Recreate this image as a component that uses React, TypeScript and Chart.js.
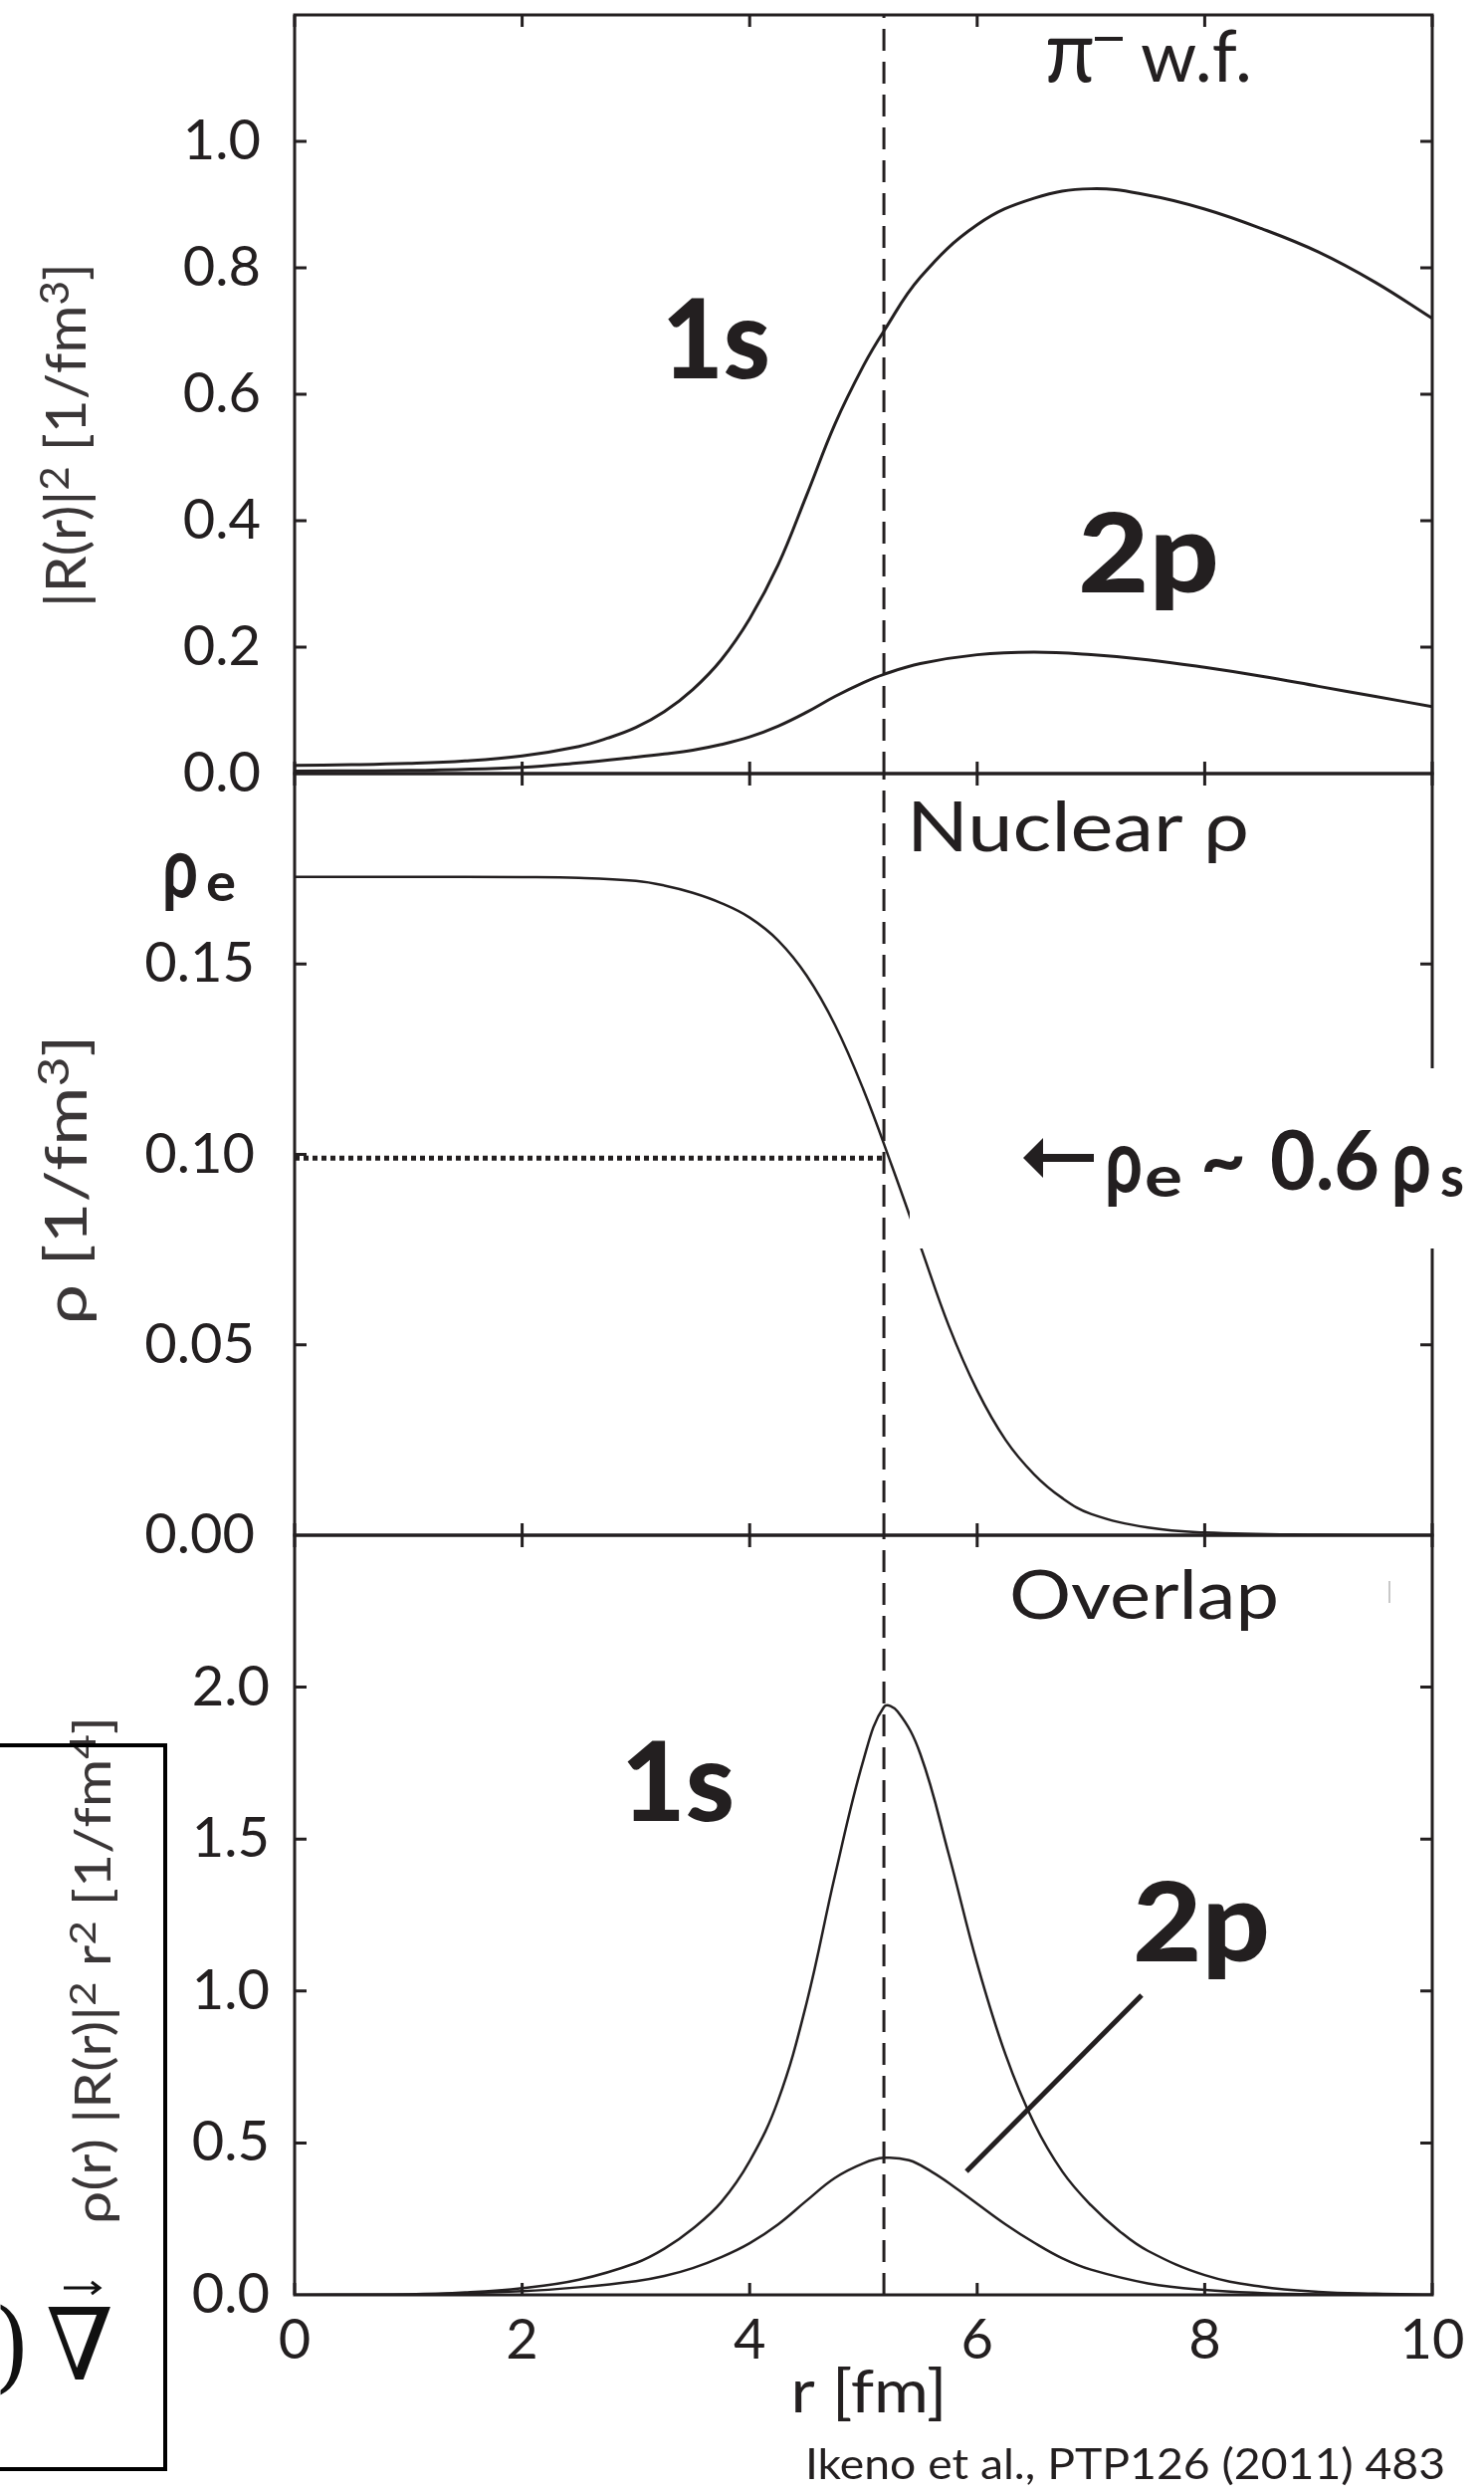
import React, { useEffect, useRef } from "react";
import { Chart, registerables } from "chart.js";

Chart.register(...registerables);

// ---------- page geometry ----------
const PAGE_W = 1491;
const PAGE_H = 2503;
const PLOT_LEFT = 296;
const PLOT_RIGHT = 1439;
const PANEL_TOPS = [15, 777, 1542];
const PANEL_BOTTOMS = [777, 1542, 2305];
const X_AXIS_H = 100;
const TICK_LEN = 12;
const INK = "#231f20";
const TITLE_INK = "#3a3637";
const FONT = "Lato, 'Open Sans', 'DejaVu Sans', sans-serif";
const SERIF = "'DejaVu Serif', 'Liberation Serif', serif";

// ---------- data ----------
const xTicks = [0, 2, 4, 6, 8, 10];
const wfTicks = [0, 0.2, 0.4, 0.6, 0.8, 1.0];
const rhoTicks = [0, 0.05, 0.1, 0.15];
const overlapTicks = [0, 0.5, 1.0, 1.5, 2.0];

// pi- wave function |R(r)|^2, 1s
const wf1sR = [0, 0.5, 1, 1.5, 2, 2.5, 2.75, 3, 3.25, 3.5, 3.75, 4, 4.25, 4.5, 4.75, 5, 5.18, 5.5, 6, 6.5, 7, 7.5, 8, 8.5, 9, 9.5, 10];
const wf1sV = [0.013, 0.014, 0.016, 0.02, 0.028, 0.043, 0.056, 0.073, 0.098, 0.133, 0.18, 0.245, 0.33, 0.44, 0.553, 0.645, 0.7, 0.785, 0.868, 0.91, 0.925, 0.915, 0.893, 0.862, 0.825, 0.777, 0.72];
// 2p
const wf2pR = [0, 1, 2, 2.5, 3, 3.25, 3.5, 3.75, 4, 4.25, 4.5, 4.75, 5, 5.18, 5.5, 6, 6.5, 7, 7.5, 8, 8.5, 9, 9.5, 10];
const wf2pV = [0.004, 0.005, 0.01, 0.017, 0.026, 0.031, 0.037, 0.046, 0.058, 0.075, 0.097, 0.122, 0.144, 0.157, 0.174, 0.188, 0.192, 0.188, 0.18, 0.168, 0.154, 0.138, 0.122, 0.106];

// nuclear density rho(r)
const rhoR = [0, 1, 2, 2.5, 3, 3.25, 3.5, 3.75, 4, 4.25, 4.5, 4.75, 5, 5.25, 5.5, 5.75, 6, 6.25, 6.5, 6.75, 7, 7.5, 8, 9, 10];
const rhoV = [0.1729, 0.1729, 0.1728, 0.1726, 0.1718, 0.1706, 0.1687, 0.166, 0.1622, 0.1562, 0.147, 0.134, 0.117, 0.097, 0.076, 0.055, 0.038, 0.025, 0.016, 0.0097, 0.0056, 0.002, 0.0007, 0.0001, 0];

// overlap rho |R|^2 r^2, 1s
const ov1sR = [0, 1, 1.5, 2, 2.5, 3, 3.25, 3.5, 3.75, 4, 4.25, 4.5, 4.75, 5, 5.18, 5.3, 5.5, 5.75, 6, 6.25, 6.5, 6.75, 7, 7.25, 7.5, 8, 8.5, 9, 9.5, 10];
const ov1sV = [0, 0.002, 0.008, 0.022, 0.05, 0.105, 0.152, 0.218, 0.305, 0.44, 0.64, 0.96, 1.38, 1.76, 1.935, 1.92, 1.78, 1.45, 1.09, 0.79, 0.565, 0.405, 0.295, 0.21, 0.145, 0.065, 0.027, 0.01, 0.004, 0.001];
// 2p
const ov2pR = [0, 1, 2, 2.5, 3, 3.25, 3.5, 3.75, 4, 4.25, 4.5, 4.75, 5, 5.18, 5.4, 5.6, 5.8, 6, 6.25, 6.5, 6.75, 7, 7.5, 8, 8.5, 9, 10];
const ov2pV = [0, 0.0005, 0.012, 0.025, 0.045, 0.062, 0.088, 0.124, 0.17, 0.232, 0.31, 0.385, 0.433, 0.451, 0.443, 0.405, 0.355, 0.3, 0.232, 0.172, 0.12, 0.083, 0.038, 0.016, 0.006, 0.002, 0];

const EDGE_R = 5.18; // dashed vertical line
const RHO_E = 0.099; // dotted horizontal line

// ---------- helpers ----------
type TxtOpts = {
  weight?: string | number;
  width?: number;
  align?: "left" | "center" | "right";
  baseline?: CanvasTextBaseline;
  color?: string;
  rotate?: number;
  family?: string;
};

function txt(ctx: CanvasRenderingContext2D, s: string, x: number, y: number, size: number, o: TxtOpts = {}) {
  ctx.save();
  ctx.font = `${o.weight ?? "normal"} ${size}px ${o.family ?? FONT}`;
  ctx.fillStyle = o.color ?? INK;
  ctx.textBaseline = o.baseline ?? "alphabetic";
  ctx.textAlign = "left";
  const w = ctx.measureText(s).width;
  const sx = o.width ? o.width / w : 1;
  ctx.translate(x, y);
  if (o.rotate) ctx.rotate(o.rotate);
  ctx.scale(sx, 1);
  const ox = o.align === "center" ? -w / 2 : o.align === "right" ? -w : 0;
  ctx.fillText(s, ox, 0);
  ctx.restore();
}

type Seg = { t: string; sup?: boolean };

// vertical (rotated) axis title with superscripts, centred at (cx, cy), stretched to `length`
function verticalTitle(ctx: CanvasRenderingContext2D, segs: Seg[], cx: number, cy: number, size: number, length: number) {
  ctx.save();
  ctx.fillStyle = TITLE_INK;
  ctx.textBaseline = "alphabetic";
  ctx.textAlign = "left";
  const supSize = size * 0.72;
  const widths = segs.map((s) => {
    ctx.font = `normal ${s.sup ? supSize : size}px ${FONT}`;
    return ctx.measureText(s.t).width;
  });
  const total = widths.reduce((a, b) => a + b, 0);
  ctx.translate(cx, cy);
  ctx.rotate(-Math.PI / 2);
  ctx.scale(length / total, 1);
  let x = -total / 2;
  const base = size * 0.36;
  segs.forEach((s, i) => {
    ctx.font = `normal ${s.sup ? supSize : size}px ${FONT}`;
    ctx.fillText(s.t, x, base - (s.sup ? size * 0.3 : 0));
    x += widths[i];
  });
  ctx.restore();
}

function series(r: number[], v: number[], width = 3) {
  return {
    data: r.map((x, i) => ({ x, y: v[i] })),
    borderColor: INK,
    borderWidth: width,
    pointRadius: 0,
    fill: false,
    tension: 0.4,
  };
}

function guide(points: { x: number; y: number }[], dash: number[], width: number) {
  return {
    data: points,
    borderColor: INK,
    borderWidth: width,
    borderDash: dash,
    borderCapStyle: "butt" as const,
    pointRadius: 0,
    fill: false,
    tension: 0,
  };
}

function drawFrame(chart: any, yTicks: number[]) {
  const { ctx, chartArea: a, scales } = chart;
  const xs = scales.x;
  const ys = scales.y;
  ctx.save();
  ctx.strokeStyle = INK;
  ctx.lineWidth = 3;
  ctx.strokeRect(a.left, a.top, a.right - a.left, a.bottom - a.top);
  ctx.beginPath();
  for (const v of xTicks) {
    const px = xs.getPixelForValue(v);
    ctx.moveTo(px, a.bottom);
    ctx.lineTo(px, a.bottom - TICK_LEN);
    ctx.moveTo(px, a.top);
    ctx.lineTo(px, a.top + TICK_LEN);
  }
  for (const v of yTicks) {
    const py = ys.getPixelForValue(v);
    ctx.moveTo(a.left, py);
    ctx.lineTo(a.left + TICK_LEN, py);
    ctx.moveTo(a.right, py);
    ctx.lineTo(a.right - TICK_LEN, py);
  }
  ctx.stroke();
  ctx.restore();
}

type PanelSpec = {
  index: number;
  yMin: number;
  yMax: number;
  yTicks: number[];
  decimals: number;
  labelPad: number;
  showX: boolean;
  datasets: any[];
  decorate: (chart: any) => void;
};

function makeConfig(p: PanelSpec): any {
  const top = PANEL_TOPS[p.index];
  const bottom = PANEL_BOTTOMS[p.index];
  const xh = p.showX ? X_AXIS_H : 0;
  return {
    type: "line",
    data: { datasets: p.datasets },
    options: {
      animation: false,
      responsive: false,
      maintainAspectRatio: false,
      devicePixelRatio: 1,
      events: [],
      layout: {
        padding: {
          left: 0,
          right: PAGE_W - PLOT_RIGHT,
          top,
          bottom: PAGE_H - bottom - xh,
        },
      },
      plugins: { legend: { display: false }, tooltip: { enabled: false }, title: { display: false } },
      scales: {
        x: {
          type: "linear",
          min: 0,
          max: 10,
          display: p.showX,
          grid: { display: false, drawTicks: false },
          border: { display: false },
          ticks: {
            autoSkip: false,
            maxRotation: 0,
            padding: 12,
            color: INK,
            font: { family: FONT, size: 56 },
            callback: (v: number) => String(v),
          },
          afterBuildTicks: (s: any) => {
            s.ticks = xTicks.map((value) => ({ value }));
          },
          afterFit: (s: any) => {
            s.height = xh;
            s.paddingLeft = 0;
            s.paddingRight = 0;
          },
        },
        y: {
          type: "linear",
          min: p.yMin,
          max: p.yMax,
          grid: { display: false, drawTicks: false },
          border: { display: false },
          ticks: {
            autoSkip: false,
            padding: p.labelPad,
            color: INK,
            font: { family: FONT, size: 56 },
            callback: (v: number) => Number(v).toFixed(p.decimals),
          },
          afterBuildTicks: (s: any) => {
            s.ticks = p.yTicks.map((value) => ({ value }));
          },
          afterFit: (s: any) => {
            s.width = PLOT_LEFT;
            s.paddingTop = 0;
            s.paddingBottom = 0;
          },
        },
      },
    },
    plugins: [
      {
        id: "panelDecor" + p.index,
        afterDraw(chart: any) {
          drawFrame(chart, p.yTicks.filter((v) => v > p.yMin));
          p.decorate(chart);
        },
      },
    ],
  };
}

// ---------- panel specs ----------
const topPanel: PanelSpec = {
  index: 0,
  yMin: 0,
  yMax: 1.2,
  yTicks: wfTicks,
  decimals: 1,
  labelPad: 34,
  showX: false,
  datasets: [
    series(wf1sR, wf1sV, 3),
    series(wf2pR, wf2pV, 3),
    guide([{ x: EDGE_R, y: 0 }, { x: EDGE_R, y: 1.2 }], [22, 11], 3),
  ],
  decorate(chart) {
    const ctx = chart.ctx as CanvasRenderingContext2D;
    txt(ctx, "π", 1050, 82, 88, { width: 50 });
    ctx.save();
    ctx.fillStyle = INK;
    ctx.fillRect(1100, 37, 28, 4);
    ctx.restore();
    txt(ctx, "w.f.", 1146, 82, 72, { width: 112 });
    txt(ctx, "1s", 665, 380, 110, { weight: 900, width: 109 });
    txt(ctx, "2p", 1083, 595, 110, { weight: 900, width: 142 });
    verticalTitle(
      ctx,
      [{ t: "|R(r)|" }, { t: "2", sup: true }, { t: " [1/fm" }, { t: "3", sup: true }, { t: "]" }],
      66,
      437,
      56,
      346
    );
  },
};

const middlePanel: PanelSpec = {
  index: 1,
  yMin: 0,
  yMax: 0.2,
  yTicks: rhoTicks,
  decimals: 2,
  labelPad: 40,
  showX: false,
  datasets: [
    series(rhoR, rhoV, 2.5),
    guide([{ x: EDGE_R, y: 0 }, { x: EDGE_R, y: 0.2 }], [22, 11], 3),
    guide([{ x: 0, y: RHO_E }, { x: EDGE_R, y: RHO_E }], [5, 4], 5),
  ],
  decorate(chart) {
    const ctx = chart.ctx as CanvasRenderingContext2D;
    txt(ctx, "Nuclear ρ", 911, 855, 70, { width: 344 });
    // rho_e on the left
    txt(ctx, "ρ", 163, 901, 84, { weight: "bold", width: 36 });
    txt(ctx, "e", 207, 905, 54, { weight: "bold", width: 30 });
    // white box with the annotation
    ctx.save();
    ctx.fillStyle = "#ffffff";
    ctx.fillRect(914, 1073, PAGE_W - 914, 181);
    ctx.fillStyle = INK;
    ctx.fillRect(1045, 1159, 54, 8);
    ctx.beginPath();
    ctx.moveTo(1028, 1163);
    ctx.lineTo(1048, 1143);
    ctx.lineTo(1048, 1183);
    ctx.closePath();
    ctx.fill();
    ctx.restore();
    txt(ctx, "ρ", 1110, 1197, 88, { weight: "bold", width: 38 });
    txt(ctx, "e", 1150, 1202, 58, { weight: "bold", width: 38 });
    txt(ctx, "~", 1206, 1193, 78, { weight: "bold", width: 46 });
    txt(ctx, "0.6", 1276, 1195, 82, { weight: "bold", width: 110 });
    txt(ctx, "ρ", 1398, 1197, 88, { weight: "bold", width: 40 });
    txt(ctx, "s", 1447, 1202, 58, { weight: "bold", width: 24 });
    verticalTitle(ctx, [{ t: "ρ [1/fm" }, { t: "3", sup: true }, { t: "]" }], 66, 1185, 58, 291);
  },
};

const bottomPanel: PanelSpec = {
  index: 2,
  yMin: 0,
  yMax: 2.5,
  yTicks: overlapTicks,
  decimals: 1,
  labelPad: 25,
  showX: true,
  datasets: [
    series(ov1sR, ov1sV, 2.5),
    series(ov2pR, ov2pV, 2.5),
    guide([{ x: EDGE_R, y: 0 }, { x: EDGE_R, y: 2.5 }], [22, 11], 3),
  ],
  decorate(chart) {
    const ctx = chart.ctx as CanvasRenderingContext2D;
    txt(ctx, "Overlap", 1014, 1626, 68, { width: 271 });
    ctx.save();
    ctx.strokeStyle = "#c8c8c8";
    ctx.lineWidth = 2;
    ctx.beginPath();
    ctx.moveTo(1396, 1588);
    ctx.lineTo(1396, 1610);
    ctx.stroke();
    ctx.restore();
    txt(ctx, "1s", 624, 1829, 110, { weight: 900, width: 114 });
    txt(ctx, "2p", 1138, 1970, 110, { weight: 900, width: 138 });
    ctx.save();
    ctx.strokeStyle = INK;
    ctx.lineWidth = 5;
    ctx.beginPath();
    ctx.moveTo(1147, 2004);
    ctx.lineTo(971, 2181);
    ctx.stroke();
    ctx.restore();
    txt(ctx, "r [fm]", 873, 2404, 60, { align: "center", baseline: "middle", width: 157 });
    txt(ctx, "Ikeno et al., PTP126 (2011) 483", 809, 2490, 42, { width: 643 });
    verticalTitle(
      ctx,
      [
        { t: "ρ(r) |R(r)|" },
        { t: "2", sup: true },
        { t: " r" },
        { t: "2", sup: true },
        { t: " [1/fm" },
        { t: "4", sup: true },
        { t: "]" },
      ],
      93,
      1979,
      50,
      510
    );
    // cropped formula box at the lower left
    ctx.save();
    ctx.strokeStyle = "#000000";
    ctx.lineWidth = 4;
    ctx.beginPath();
    ctx.moveTo(0, 1753);
    ctx.lineTo(166, 1753);
    ctx.lineTo(166, 2480);
    ctx.lineTo(0, 2480);
    ctx.stroke();
    ctx.restore();
    txt(ctx, ")", -6, 2390, 100, { family: SERIF, color: "#111111", width: 36 });
    txt(ctx, "∇", 46, 2390, 100, { family: SERIF, color: "#111111", width: 68 });
    ctx.save();
    ctx.strokeStyle = "#111111";
    ctx.lineWidth = 3;
    ctx.beginPath();
    ctx.moveTo(64, 2298);
    ctx.lineTo(100, 2298);
    ctx.moveTo(92, 2292);
    ctx.lineTo(100, 2298);
    ctx.lineTo(92, 2304);
    ctx.stroke();
    ctx.restore();
  },
};

const PANELS = [topPanel, middlePanel, bottomPanel];

export default function App() {
  const refs = [useRef<HTMLCanvasElement>(null), useRef<HTMLCanvasElement>(null), useRef<HTMLCanvasElement>(null)];

  useEffect(() => {
    const charts: Chart[] = [];
    PANELS.forEach((p, i) => {
      const c = refs[i].current;
      if (c) charts.push(new Chart(c, makeConfig(p)));
    });
    return () => charts.forEach((c) => c.destroy());
  }, []);

  return (
    <div style={{ position: "absolute", left: 0, top: 0, width: PAGE_W, height: PAGE_H, background: "#ffffff" }}>
      {refs.map((r, i) => (
        <canvas
          key={i}
          ref={r}
          width={PAGE_W}
          height={PAGE_H}
          style={{ position: "absolute", left: 0, top: 0, width: PAGE_W, height: PAGE_H }}
        />
      ))}
    </div>
  );
}
